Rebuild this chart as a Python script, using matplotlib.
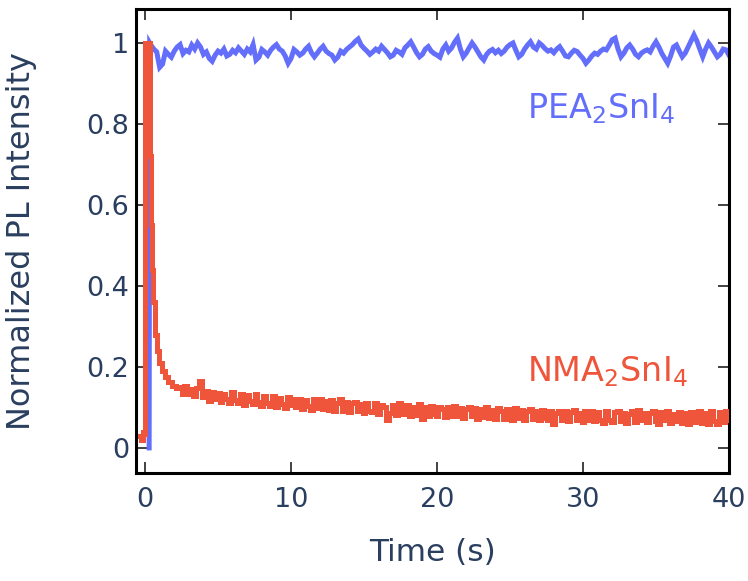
import numpy as np
import matplotlib
matplotlib.use("Agg")
import matplotlib.pyplot as plt

plt.rcParams['font.family'] = ['DejaVu Sans']
plt.rcParams['mathtext.fontset'] = 'dejavusans'

# ---------------- data ----------------
# PEA2SnI4 (blue): onset, then samples every 0.2 s from 0.4 s to 40.0 s
pea_onset_t = [0.28, 0.32]
pea_onset_y = [0.0, 1.0]
pea_start, pea_step = 0.4, 0.2
pea_vals = [
    0.995, 0.985, 0.978, 0.940, 0.948, 0.980, 0.972, 0.965, 0.980, 0.990,
    0.996, 0.974, 0.982, 0.978, 0.995, 0.985, 1.000, 0.990, 0.972, 0.978,
    0.962, 0.955, 0.970, 0.980, 0.975, 0.985, 0.968, 0.972, 0.982, 0.976,
    0.988, 0.980, 0.972, 0.985, 0.978, 0.996, 0.958, 0.965, 0.984, 0.978,
    0.970, 0.982, 0.990, 0.996, 0.985, 0.980, 0.968, 0.950, 0.962, 0.984,
    0.978, 0.970, 0.975, 0.985, 0.992, 0.976, 0.966, 0.975, 0.985, 0.992,
    0.980, 0.974, 0.970, 0.958, 0.965, 0.980, 0.975, 0.984, 0.990, 0.996,
    1.004, 1.010, 0.995, 0.987, 0.980, 0.972, 0.978, 0.985, 0.980, 0.992,
    0.984, 0.976, 0.966, 0.970, 0.982, 0.978, 0.972, 0.988, 0.995, 1.003,
    0.990, 0.976, 0.966, 0.972, 0.985, 0.991, 0.980, 0.974, 0.970, 0.965,
    0.985, 0.995, 0.980, 0.988, 1.002, 1.012, 0.985, 0.966, 0.975, 0.988,
    1.000, 0.990, 0.978, 0.966, 0.958, 0.972, 0.980, 0.984, 0.976, 0.982,
    0.974, 0.980, 0.990, 0.996, 1.000, 0.982, 0.966, 0.972, 0.985, 0.995,
    1.003, 0.990, 0.985, 1.000, 0.994, 0.986, 0.980, 0.983, 0.976, 0.985,
    0.991, 0.980, 0.968, 0.966, 0.975, 0.982, 0.979, 0.970, 0.962, 0.950,
    0.958, 0.968, 0.975, 0.972, 0.980, 0.985, 0.983, 0.995, 1.008, 1.012,
    0.985, 0.966, 0.975, 0.988, 0.995, 0.985, 0.972, 0.966, 0.975, 0.980,
    0.983, 0.978, 0.992, 1.003, 0.990, 0.974, 0.962, 0.950, 0.968, 0.990,
    0.995, 0.980, 0.966, 0.975, 0.990, 1.005, 1.020, 1.005, 0.985, 0.966,
    0.985, 1.000, 0.990, 0.978, 0.966, 0.972, 0.985, 0.983, 0.970,
]

# NMA2SnI4 (red): onset + fast decay, then samples every 0.2 s from 2.4 s to 40.0 s
nma_onset_t = [-0.35, -0.2, -0.05, 0.0, 0.03, 0.3, 0.36, 0.42, 0.5, 0.6,
               0.75, 0.9, 1.05, 1.25, 1.45, 1.7, 2.0, 2.2]
nma_onset_y = [0.03, 0.02, 0.04, 0.03, 1.0, 1.0, 0.72, 0.55, 0.44, 0.36,
               0.28, 0.24, 0.21, 0.19, 0.175, 0.162, 0.152, 0.148]
nma_start, nma_step = 2.4, 0.2
nma_vals = [
    0.150, 0.134, 0.152, 0.132, 0.146, 0.128, 0.148, 0.165, 0.126, 0.140,
    0.116, 0.138, 0.120, 0.136, 0.114, 0.134, 0.122, 0.110, 0.138, 0.118,
    0.110, 0.132, 0.106, 0.130, 0.116, 0.108, 0.134, 0.114, 0.104, 0.128,
    0.110, 0.104, 0.128, 0.100, 0.124, 0.108, 0.098, 0.126, 0.106, 0.120,
    0.100, 0.122, 0.096, 0.118, 0.104, 0.094, 0.120, 0.098, 0.122, 0.096,
    0.116, 0.094, 0.118, 0.090, 0.110, 0.120, 0.092, 0.114, 0.088, 0.110,
    0.114, 0.090, 0.108, 0.086, 0.112, 0.092, 0.088, 0.112, 0.084, 0.106,
    0.102, 0.068, 0.086, 0.106, 0.082, 0.110, 0.088, 0.084, 0.106, 0.080,
    0.102, 0.082, 0.108, 0.072, 0.100, 0.080, 0.104, 0.084, 0.078, 0.102,
    0.096, 0.076, 0.100, 0.080, 0.104, 0.078, 0.098, 0.074, 0.096, 0.102,
    0.078, 0.098, 0.072, 0.096, 0.076, 0.100, 0.074, 0.094, 0.072, 0.098,
    0.092, 0.072, 0.096, 0.076, 0.070, 0.098, 0.074, 0.094, 0.068, 0.092,
    0.096, 0.072, 0.092, 0.070, 0.094, 0.074, 0.068, 0.090, 0.058, 0.086,
    0.092, 0.070, 0.090, 0.066, 0.088, 0.094, 0.068, 0.086, 0.064, 0.090,
    0.070, 0.092, 0.066, 0.088, 0.068, 0.062, 0.090, 0.070, 0.064, 0.088,
    0.092, 0.066, 0.086, 0.062, 0.084, 0.090, 0.064, 0.094, 0.068, 0.086,
    0.064, 0.086, 0.092, 0.066, 0.060, 0.088, 0.068, 0.090, 0.062, 0.084,
    0.066, 0.088, 0.062, 0.086, 0.058, 0.088, 0.068, 0.064, 0.090, 0.062,
    0.086, 0.060, 0.090, 0.066, 0.058, 0.088, 0.064, 0.092, 0.070,
]

x_ticks = [0, 10, 20, 30, 40]
y_ticks = [0, 0.2, 0.4, 0.6, 0.8, 1]
y_ticklabels = ["0", "0.2", "0.4", "0.6", "0.8", "1"]
x_label = "Time (s)"
y_label = "Normalized PL Intensity"
pea_label = "PEA$_2$SnI$_4$"
nma_label = "NMA$_2$SnI$_4$"

# ---------------- build series ----------------
pea_t = np.concatenate([pea_onset_t, pea_start + pea_step * np.arange(len(pea_vals))])
pea_y = np.concatenate([pea_onset_y, pea_vals])
nma_t = np.concatenate([nma_onset_t, nma_start + nma_step * np.arange(len(nma_vals))])
nma_y = np.concatenate([nma_onset_y, nma_vals])

BLUE = "#636efa"
RED = "#ef553b"
TXT = "#2a3f5f"

fig = plt.figure(figsize=(7.48, 5.81), dpi=100)
ax = fig.add_axes([136 / 748, 108 / 581, (729 - 136) / 748, (473 - 9) / 581])

ax.plot(pea_t, pea_y, color=BLUE, lw=3.6, solid_joinstyle='miter', zorder=2)
ax.plot(nma_t, nma_y, color=RED, lw=3.6, drawstyle='steps-mid',
        solid_joinstyle='miter', zorder=3)

ax.set_xlim(-0.62, 40)
ax.set_ylim(-0.062, 1.084)
ax.set_xticks(x_ticks)
ax.set_yticks(y_ticks)
ax.set_yticklabels(y_ticklabels)

for s in ax.spines.values():
    s.set_linewidth(2.2)
    s.set_color("black")

ax.tick_params(axis='both', direction='in', length=8, width=1.3, color='#333333',
               top=True, right=True, labelsize=19.5, labelcolor=TXT)
ax.tick_params(axis='x', pad=10)
ax.tick_params(axis='y', pad=5)

ax.set_xlabel(x_label, fontsize=22.5, color=TXT, labelpad=18)
ax.set_ylabel(y_label, fontsize=23, color=TXT)
ax.yaxis.set_label_coords(-0.167, 0.5)

ax.text(0.784, 0.786, pea_label, transform=ax.transAxes, color=BLUE,
        fontsize=24, ha='center', va='center')
ax.text(0.795, 0.218, nma_label, transform=ax.transAxes, color=RED,
        fontsize=24, ha='center', va='center')

fig.savefig("out.png", dpi=100)
